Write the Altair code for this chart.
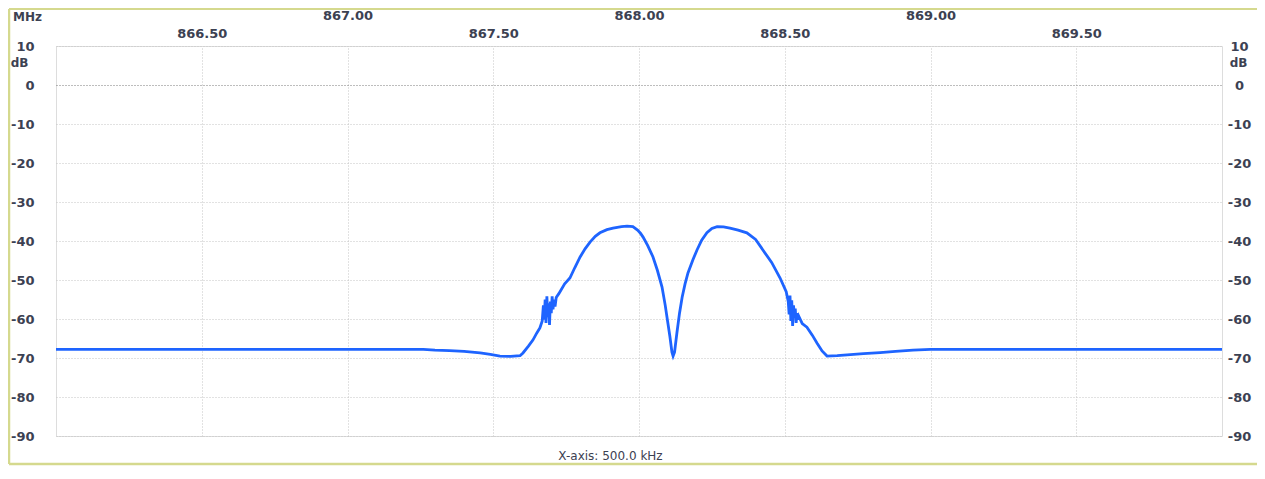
import altair as alt
import pandas as pd

# ---- data (frequency in MHz, level in dB) ----
freq_mhz = [
    866.000, 866.500, 867.000, 867.260, 867.300, 867.350, 867.400, 867.455,
    867.490, 867.523, 867.560, 867.592, 867.602, 867.620, 867.636, 867.650,
    867.660, 867.668,
    867.672, 867.675, 867.678, 867.681, 867.684, 867.687, 867.690, 867.693,
    867.696, 867.699, 867.702, 867.705, 867.708, 867.712, 867.716,
    867.725, 867.745, 867.763, 867.780, 867.798, 867.815, 867.832, 867.850,
    867.866, 867.890, 867.911, 867.940, 867.959, 867.979, 867.995, 868.005,
    868.014, 868.030, 868.048, 868.063, 868.079, 868.090, 868.098, 868.106,
    868.113, 868.117, 868.122, 868.130, 868.139, 868.148, 868.158, 868.168,
    868.185, 868.199, 868.215, 868.233, 868.250, 868.268, 868.290, 868.312,
    868.340, 868.370, 868.400, 868.425, 868.455, 868.484, 868.505,
    868.512, 868.515, 868.518, 868.521, 868.524, 868.527, 868.530, 868.533,
    868.536, 868.539, 868.542, 868.545, 868.548,
    868.560, 868.576, 868.595, 868.611, 868.628, 868.645, 868.680, 868.714,
    868.770, 868.827, 868.880, 868.940, 869.000, 869.101, 869.500, 870.000,
]
level_db = [
    -67.8, -67.8, -67.8, -67.8, -68.0, -68.1, -68.3, -68.7,
    -69.1, -69.5, -69.6, -69.4, -68.7, -67.0, -65.4, -63.5,
    -62.3, -60.5,
    -56.5, -60.2, -55.0, -61.0, -54.2, -59.5, -56.0, -61.5,
    -55.5, -58.5, -54.2, -57.5, -55.0, -56.8, -54.5,
    -53.5, -51.0, -49.5, -46.8, -44.1, -42.0, -40.3, -38.8,
    -37.9, -37.1, -36.7, -36.3, -36.2, -36.3, -37.2, -38.0,
    -39.0, -41.2, -44.1, -47.5, -51.8, -56.5, -60.5, -64.5,
    -68.5, -69.5, -68.5, -63.6, -58.5, -54.4, -51.0, -48.2,
    -44.8, -42.3, -39.8, -37.9, -36.8, -36.3, -36.4, -36.7,
    -37.2, -37.9, -39.6, -42.3, -45.5, -49.5, -53.0,
    -55.5, -58.8, -54.0, -60.5, -55.2, -61.8, -56.5, -59.0,
    -57.3, -61.0, -58.5, -60.2, -59.3,
    -61.2, -62.1, -64.2, -66.2, -68.2, -69.5, -69.4, -69.2,
    -68.9, -68.6, -68.3, -68.0, -67.8, -67.8, -67.8, -67.8,
]
x_ticks = [866.5, 867.0, 867.5, 868.0, 868.5, 869.0, 869.5]
y_ticks = [-90, -80, -70, -60, -50, -40, -30, -20, -10, 0, 10]
x_domain = [866.0, 870.0]
y_domain = [-90, 10]

df = pd.DataFrame({"f": freq_mhz, "db": level_db})
one = pd.DataFrame({"k": [0]})

W, H = 1166, 390
PAD = {"left": 48, "top": 38, "right": 35, "bottom": 30}
FONT = "DejaVu Sans"
TXT = "#3c4152"
LINE = "#1e64ff"
BORDER = "#d5d98e"
GRID = "#c4c4c4"

xscale = alt.Scale(domain=x_domain, nice=False, zero=False)
yscale = alt.Scale(domain=y_domain, nice=False, zero=False)

top_axis = alt.Axis(
    orient="top", values=x_ticks, format=".2f",
    grid=True, gridColor=GRID, gridDash=[1, 2], gridWidth=1,
    ticks=False, domain=False, labelFlush=False, labelOverlap=False,
    labelFont=FONT, labelFontSize=13, labelFontWeight="bold", labelColor=TXT,
    labelPadding={"condition": {"test": "datum.value % 1 == 0", "value": 24}, "value": 6},
    title="MHz", titleX=-29, titleY=-30, titleAngle=0, titleAlign="center",
    titleBaseline="middle", titleFont=FONT, titleFontSize=12,
    titleFontWeight="bold", titleColor=TXT,
)
bottom_axis = alt.Axis(
    orient="bottom", labels=False, ticks=False, domain=False, grid=False,
    title="X-axis: 500.0 kHz", titleX=554, titleY=19, titleAngle=0,
    titleAlign="center", titleBaseline="middle", titleFont=FONT,
    titleFontSize=12, titleFontWeight="normal", titleColor=TXT,
)
left_axis = alt.Axis(
    orient="left", values=y_ticks, labelExpr="'' + datum.value",
    grid=True, gridDash=[1, 2], gridWidth=1,
    gridColor={"condition": {"test": "datum.value == 0", "value": "#7a7a7a"}, "value": GRID},
    ticks=False, domain=False, labelOverlap=False, labelPadding=22,
    labelFont=FONT, labelFontSize=13, labelFontWeight="bold", labelColor=TXT,
    title="dB", titleX=-37, titleY=16, titleAngle=0, titleAlign="center",
    titleBaseline="middle", titleFont=FONT, titleFontSize=12,
    titleFontWeight="bold", titleColor=TXT,
)
right_axis = alt.Axis(
    orient="right", values=y_ticks, labelExpr="'' + datum.value", grid=False,
    ticks=False, domain=False, labelOverlap=False, labelPadding=17,
    labelAlign="center",
    labelFont=FONT, labelFontSize=13, labelFontWeight="bold", labelColor=TXT,
    title="dB", titleX=16, titleY=16, titleAngle=0, titleAlign="center",
    titleBaseline="middle", titleFont=FONT, titleFontSize=12,
    titleFontWeight="bold", titleColor=TXT,
)

trace = alt.Chart(df).mark_line(color=LINE, strokeWidth=2.8).encode(
    x=alt.X("f:Q", scale=xscale, axis=top_axis),
    y=alt.Y("db:Q", scale=yscale, axis=left_axis),
)
ghost = alt.Chart(df).mark_line(opacity=0).encode(
    x=alt.X("f:Q", scale=xscale, axis=bottom_axis),
    y=alt.Y("db:Q", scale=yscale, axis=right_axis),
)

# decorative frame around the panel (left, top, bottom edges)
left_edge = -PAD["left"] + 1
right_edge = W + PAD["right"]
top_edge = -PAD["top"] + 1
bottom_edge = H + PAD["bottom"] - 2
frame_left = alt.Chart(one).mark_rule(color=BORDER, strokeWidth=2.5).encode(
    x=alt.value(left_edge), y=alt.value(top_edge), y2=alt.value(bottom_edge))
frame_top = alt.Chart(one).mark_rule(color=BORDER, strokeWidth=2).encode(
    x=alt.value(left_edge), x2=alt.value(right_edge), y=alt.value(top_edge))
frame_bottom = alt.Chart(one).mark_rule(color=BORDER, strokeWidth=2.5).encode(
    x=alt.value(left_edge), x2=alt.value(right_edge), y=alt.value(bottom_edge))

chart = (
    alt.layer(trace, ghost, frame_left, frame_top, frame_bottom)
    .resolve_axis(x="independent", y="independent")
    .properties(width=W, height=H, autosize=alt.AutoSizeParams(type="none"), padding=PAD)
    .configure_view(stroke=GRID, strokeDash=[1, 2], strokeWidth=1)
    .configure(background="white")
)

chart.save("out.html", embed_options={"renderer": "svg", "actions": False})
